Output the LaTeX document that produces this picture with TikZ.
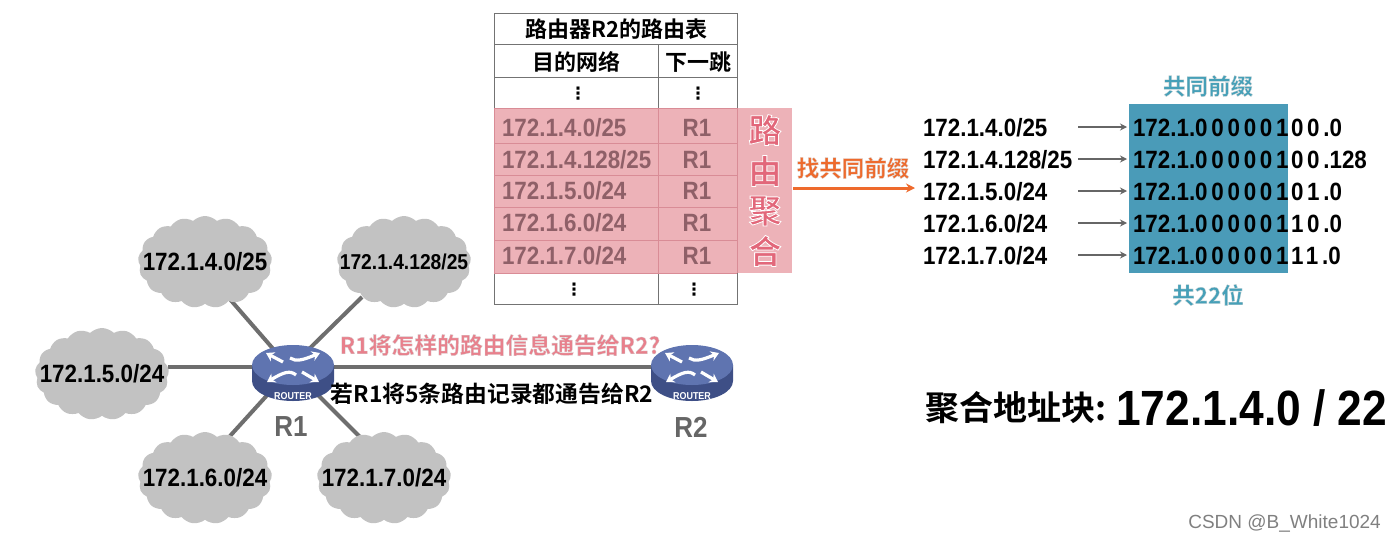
\documentclass[tikz,border=0pt]{standalone}
\usepackage{fontspec}
\usetikzlibrary{shapes.symbols,arrows.meta,backgrounds,calc}
\newfontfamily\lat[FakeStretch=0.895]{Liberation Sans Bold}
\newfontfamily\latsp[FakeStretch=0.895,LetterSpace=15]{Liberation Sans Bold}
\newfontfamily\cjk{Noto Sans CJK SC Bold}
\newfontfamily\wm{Liberation Sans}
\newfontfamily\vdotsfont{DejaVu Sans Bold}
\definecolor{pinkbox}{HTML}{EDB2B8}
\definecolor{pinkline}{HTML}{D98C96}
\definecolor{pinktxt}{HTML}{8F6068}
\definecolor{rosetxt}{HTML}{E8808C}
\definecolor{rosedeep}{HTML}{E2677A}
\definecolor{teal1}{HTML}{46A0B8}
\definecolor{boxblue}{HTML}{4A9BB8}
\definecolor{orange1}{HTML}{EE6A2C}
\definecolor{cloudgray}{HTML}{C2C2C2}
\definecolor{linkgray}{HTML}{6E6E6E}
\definecolor{routertop}{HTML}{5F74B0}
\definecolor{routerside}{HTML}{3E4F86}
\newcommand{\fsz}[1]{\fontsize{#1}{#1}\selectfont}
% fill colour, stroke grey level, stroke width, text
\newcommand{\strk}[4]{\leavevmode{\color{#1}\special{pdf:code #2 G #3 w 2 Tr}#4\special{pdf:code 0 Tr 1 w}}}
\tikzset{
  x=1pt,y=-1pt,
  txt/.style={inner sep=0pt,outer sep=0pt,text=black,font=\lat\fsz{25}},
  rowl/.style={txt,anchor=west,text=pinktxt},
  rowr/.style={txt,text=pinktxt},
  vd/.style={inner sep=0pt,font=\vdotsfont\fsz{17}},
  head/.style={inner sep=0pt,font=\cjk\fsz{22}},
  cloudn/.style={cloud,cloud puffs=17,cloud puff arc=90,aspect=1.45,fill=cloudgray,draw=none,inner sep=0pt,minimum width=134pt,minimum height=92pt},
  link/.style={draw=linkgray,line width=4pt},
  grid/.style={draw=black!55,line width=1pt},
  gridp/.style={draw=pinkline,line width=1pt},
  garrow/.style={draw=black!60,line width=2.5pt,-{Stealth[length=7pt,width=7pt]}},
  rarrow/.style={draw=white,line width=3.2pt,-{Stealth[length=8pt,width=10pt]}},
  routernode/.style={inner sep=0pt,minimum width=82pt,minimum height=60pt}
}
\newcommand{\routerdraw}[1]{%
  \begin{scope}[shift={(#1)}]
    \fill[routerside] (-41,-2) -- (-41,14) arc[start angle=180,end angle=0,x radius=41,y radius=20] -- (41,-2) -- cycle;
    \fill[routertop] (0,-2) ellipse[x radius=41,y radius=20];
    \draw[rarrow] (-10,-5) -- (-27,-14);
    \draw[rarrow] (-3,-9) .. controls (3,-5) and (10,-7) .. (27,-14);
    \draw[rarrow] (9,5) -- (26,15);
    \draw[rarrow] (3,8) .. controls (-3,3) and (-9,5) .. (-26,15);
    \node[inner sep=0pt,text=white,font=\lat\fsz{10}] at (0,29) {ROUTER};
  \end{scope}}
\newcommand{\rowline}[5]{%
  \node[txt,anchor=west] (s#1) at (923,#2) {#3};
  \coordinate (as#1) at (1078,#2-1);
  \coordinate (ae#1) at (1127,#2-1);
  \draw[garrow] (as#1) -- (ae#1);
  \node[txt,anchor=west] (b#1) at (1133,#2) {172.1.{\latsp 000001}};
  \node[txt,anchor=west] (c#1) at (1291,#2) {{\latsp #4.}#5};
}
\begin{document}
\begin{tikzpicture}
\useasboundingbox (0,0) rectangle (1396,542);
% pink band and table
\fill[pinkbox] (494,108) rectangle (792,273);
\draw[grid] (494,13) rectangle (737,304);
\foreach \yy in {44,77,108,273}{\draw[grid] (494,\yy) -- (737,\yy);}
\draw[grid] (658,44) -- (658,304);
\foreach \yy in {108,143,175,207,240,273}{\draw[gridp] (494,\yy) -- (737,\yy);}
\draw[gridp] (658,108) -- (658,273);
\draw[gridp] (494,108) -- (494,273);
\draw[gridp] (737,108) -- (737,273);
\node[head] (title) at (616,29) {路由器R2的路由表};
\node[head] (hA) at (576,62) {目的网络};
\node[head] (hB) at (698,62) {下一跳};
\node[vd] (d1) at (578,94) {⋮};
\node[vd] (d2) at (698,94) {⋮};
\node[vd] (d3) at (574,290) {⋮};
\node[vd] (d4) at (694,290) {⋮};
\node[rowl] (tA) at (502,128) {172.1.4.0/25};
\node[rowl] (tB) at (502,160) {172.1.4.128/25};
\node[rowl] (tC) at (502,191) {172.1.5.0/24};
\node[rowl] (tD) at (502,223) {172.1.6.0/24};
\node[rowl] (tE) at (502,256) {172.1.7.0/24};
\node[rowr] (rA) at (697,128) {R1};
\node[rowr] (rB) at (697,160) {R1};
\node[rowr] (rC) at (697,191) {R1};
\node[rowr] (rD) at (697,223) {R1};
\node[rowr] (rE) at (697,256) {R1};
\node[inner sep=0pt,font=\cjk\fsz{33}] (ja) at (765,130) {\strk{rosedeep}{1}{0.8}{路}};
\node[inner sep=0pt,font=\cjk\fsz{33}] (jb) at (765,171) {\strk{rosedeep}{1}{0.8}{由}};
\node[inner sep=0pt,font=\cjk\fsz{33}] (jc) at (765,211) {\strk{rosedeep}{1}{0.8}{聚}};
\node[inner sep=0pt,font=\cjk\fsz{33}] (jd) at (765,251) {\strk{rosedeep}{1}{0.8}{合}};
\node[inner sep=0pt,font=\cjk\fsz{22.5}] (find) at (853,168) {\strk{orange1}{0.85}{0.3}{找共同前缀}};
\coordinate (oa) at (793,188);
\coordinate (ob) at (915,188);
\draw[draw=orange1,line width=3pt,-{Stealth[length=9pt,width=9pt]}] (oa) -- (ob);
% right block
\fill[boxblue] (1129,104) rectangle (1288,273);
\node[inner sep=0pt,font=\cjk\fsz{22.5}] (prefix) at (1208,86) {\strk{teal1}{0.85}{0.3}{共同前缀}};
\node[inner sep=0pt,font=\cjk\fsz{22.5}] (bits) at (1208,295) {\strk{teal1}{0.85}{0.3}{共22位}};
\rowline{1}{128}{172.1.4.0/25}{00}{0}
\rowline{2}{160}{172.1.4.128/25}{00}{128}
\rowline{3}{192}{172.1.5.0/24}{01}{0}
\rowline{4}{224}{172.1.6.0/24}{10}{0}
\rowline{5}{256}{172.1.7.0/24}{11}{0}
\node[inner sep=0pt,anchor=west,font=\cjk\fsz{34}] (agga) at (925,408) {聚合地址块:};
\node[inner sep=0pt,anchor=west,font=\lat\fsz{49.5}] (aggb) at (1116,408) {172.1.4.0 / 22};
% network
\node[cloudn] (C1) at (205,262) {};
\node[cloudn] (C2) at (404,262) {};
\node[cloudn] (C3) at (102,374) {};
\node[cloudn] (C4) at (205,478) {};
\node[cloudn] (C5) at (384,478) {};
\node[txt] at (C1) {172.1.4.0/25};
\node[txt,font=\lat\fsz{21.5}] at (C2) {172.1.4.128/25};
\node[txt] at (C3) {172.1.5.0/24};
\node[txt] at (C4) {172.1.6.0/24};
\node[txt] at (C5) {172.1.7.0/24};
\node[routernode] (R1) at (293,367) {};
\node[routernode] (R2) at (692,367) {};
\begin{pgfonlayer}{background}
\coordinate (q1) at (228,297);
\coordinate (q2) at (362,297);
\coordinate (q3) at (168,367);
\coordinate (q4) at (230,436);
\coordinate (q5) at (362,439);
\coordinate (p1) at (275,351);
\coordinate (p2) at (307,351);
\coordinate (p4) at (270,392);
\coordinate (p5) at (315,392);
\draw[link] (q1) -- (p1);
\draw[link] (q2) -- (p2);
\draw[link] (q3) -- (R1.west);
\draw[link] (q4) -- (p4);
\draw[link] (q5) -- (p5);
\draw[link] (R1.east) -- (R2.west);
\end{pgfonlayer}
\routerdraw{293,367}
\routerdraw{692,367}
\node[txt,text=black!60,font=\lat\fsz{29}] (l1) at (291,427) {R1};
\node[txt,text=black!60,font=\lat\fsz{29}] (l2) at (691,427) {R2};
\node[inner sep=0pt,font=\cjk\fsz{22.8}] (q) at (500,345) {\strk{rosetxt}{0.85}{0.3}{R1将怎样的路由信息通告给R2?}};
\node[inner sep=0pt,font=\cjk\fsz{22.8}] (ifr) at (492,394) {若R1将5条路由记录都通告给R2};
\node[inner sep=0pt,anchor=east,text=black!50,font=\wm\fsz{19}] (wm) at (1381,523) {CSDN @B\_White1024};
\end{tikzpicture}
\end{document}
